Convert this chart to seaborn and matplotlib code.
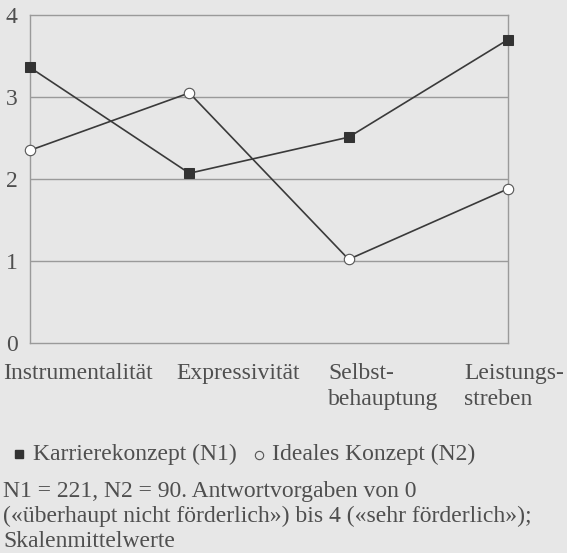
import pandas as pd
import seaborn as sns
import matplotlib.pyplot as plt
from matplotlib.lines import Line2D

# data
dimensions = ["Instrumentalität", "Expressivität", "Selbst-\nbehauptung", "Leistungs-\nstreben"]
karriere = [3.36, 2.07, 2.51, 3.70]
ideal = [2.35, 3.05, 1.02, 1.88]
y_ticks = [0, 1, 2, 3, 4]
series_names = ["Karrierekonzept (N1)", "Ideales Konzept (N2)"]
note_lines = ["N1 = 221, N2 = 90. Antwortvorgaben von 0",
              "(«überhaupt nicht förderlich») bis 4 («sehr förderlich»);",
              "Skalenmittelwerte"]

bg = "#e7e7e7"
line_col = "#3a3a3a"
grid_col = "#9a9a9a"
text_col = "#4f4f4f"
fs = 17

W, H = 567, 553

sns.set_style("white")
plt.rcParams["font.family"] = ["Liberation Serif", "DejaVu Sans"]

df = pd.DataFrame({"pos": range(len(dimensions)), "karriere": karriere, "ideal": ideal})

fig = plt.figure(figsize = (W / 100, H / 100), dpi = 100, facecolor = bg)
ax = fig.add_axes([30 / W, 1 - 343 / H, 478 / W, 328 / H])
ax.set_facecolor(bg)

sns.lineplot(data = df, x = "pos", y = "karriere", ax = ax, color = line_col,
             linewidth = 1.2, marker = "s", markersize = 6.5,
             markerfacecolor = "#333333", markeredgecolor = "#333333", zorder = 3)
sns.lineplot(data = df, x = "pos", y = "ideal", ax = ax, color = line_col,
             linewidth = 1.2, marker = "o", markersize = 7.5,
             markerfacecolor = "white", markeredgecolor = "#555555", markeredgewidth = 0.8,
             zorder = 3)
for ln in ax.lines:
    ln.set_clip_on(False)

ax.set_xlim(0, len(dimensions) - 1)
ax.set_ylim(0, 4)
ax.set_yticks(y_ticks)
ax.set_yticklabels([str(t) for t in y_ticks], fontsize = fs, color = text_col)
ax.tick_params(axis = "y", length = 0, pad = 9)
ax.set_xticks([])
ax.set_xlabel("")
ax.set_ylabel("")
for t in y_ticks[1:-1]:
    ax.axhline(t, color = grid_col, linewidth = 1.0, zorder = 1)
for s in ax.spines.values():
    s.set_color(grid_col)
    s.set_linewidth(1.0)

def put(px, py, s):
    fig.text(px / W, 1 - py / H, s, ha = "left", va = "baseline", fontsize = fs, color = text_col)

# category labels under the plot
label_x = [3, 176, 328, 464]
for lab, px in zip(dimensions, label_x):
    for i, part in enumerate(lab.split("\n")):
        put(px, 379 + 26 * i, part)

# legend row
fig.add_artist(Line2D([19 / W], [1 - 454 / H], marker = "s", markersize = 5.5,
                      markerfacecolor = "#333333", markeredgecolor = "#333333",
                      transform = fig.transFigure))
put(33, 460, series_names[0])
fig.add_artist(Line2D([259 / W], [1 - 455 / H], marker = "o", markersize = 6,
                      markerfacecolor = "none", markeredgecolor = "#555555", markeredgewidth = 0.8,
                      transform = fig.transFigure))
put(272, 460, series_names[1])

# note
for i, line in enumerate(note_lines):
    put(3, 497 + 25 * i, line)

fig.savefig("out.png", dpi = 100, facecolor = bg)
